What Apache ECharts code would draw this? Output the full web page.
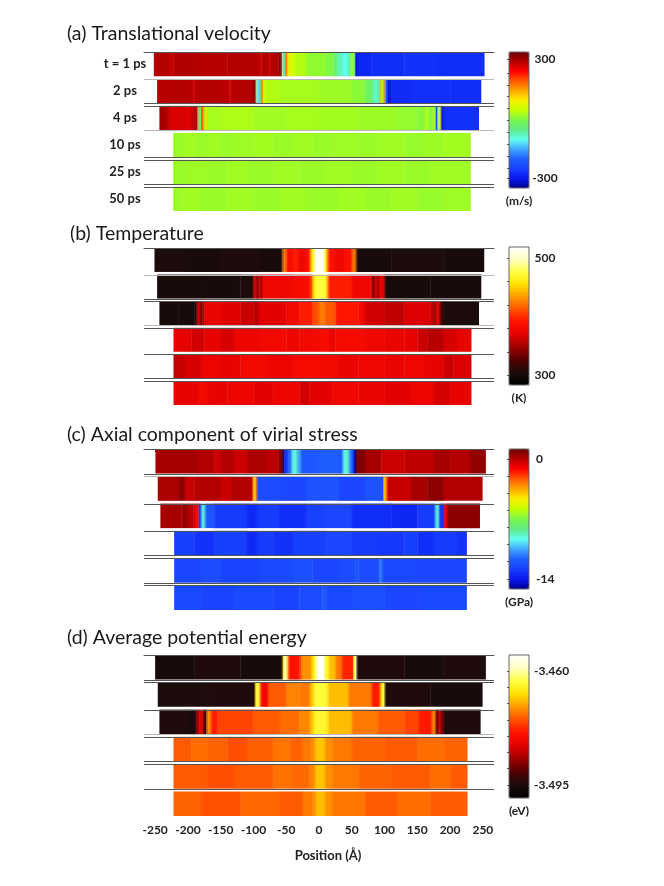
<!DOCTYPE html>
<html>
<head>
<meta charset="utf-8">
<title>Shock profiles</title>
<script src="https://cdn.jsdelivr.net/npm/echarts@6/dist/echarts.min.js"></script>
<style>
  html, body { margin: 0; padding: 0; background: #fff; }
  #chart { width: 664px; height: 886px; }
</style>
</head>
<body>
<div id="chart"></div>
<script>
const timeLabels = ['t = 1 ps', '2 ps', '4 ps', '10 ps', '25 ps', '50 ps'];

// each row: [start position in A, value] up to a closing [end position, null]
const velocityRows = [
  [[-252,288],[-228,276],[-222,290],[-180,286],[-140,288],[-92,274],[-88,288],[-76,278],[-72,290],[-62,305],[-59,335],[-57,90],[-56,-120],[-53.5,-60],[-52,170],[-49,110],[-47,70],[-42,48],[-36,30],[-20,8],[10,-5],[22,-40],[28,-80],[36,-105],[44,-70],[48,15],[53,-60],[55,-320],[58,-285],[80,-274],[130,-270],[180,-274],[252,null]],
  [[-247,286],[-226,288],[-194,272],[-190,288],[-150,286],[-137,268],[-133,288],[-104,296],[-99,330],[-97,150],[-96,-100],[-93,-130],[-90,-40],[-89,170],[-86,60],[-83,30],[-60,22],[0,16],[50,5],[70,-30],[82,-90],[90,-60],[93,120],[96,30],[98,170],[100,-150],[102,-240],[104,-320],[108,-278],[140,-272],[200,-275],[247,null]],
  [[-243.5,300],[-235,285],[-228,262],[-205,258],[-196,278],[-189,300],[-186,160],[-184,-130],[-182,-20],[-180,210],[-178,160],[-176,30],[-173,50],[-171,22],[-150,26],[-100,18],[-50,22],[0,20],[60,16],[120,10],[150,2],[162,30],[167,-5],[172,20],[177,-60],[178,-240],[180,-120],[182,60],[186,-310],[190,-272],[243.5,null]],
  [[-222.5,15],[-205,20],[-190,15],[-170,19],[-150,14],[-130,17],[-100,20],[-70,15],[-40,18],[-10,14],[20,17],[60,15],[90,18],[130,13],[160,16],[190,20],[231,null]],
  [[-222.5,14],[-200,17],[-170,15],[-140,19],[-110,15],[-70,18],[-30,15],[10,18],[50,15],[90,19],[130,14],[170,18],[231,null]],
  [[-222.5,15],[-210,19],[-180,14],[-140,18],[-100,14],[-60,19],[-20,15],[30,19],[70,15],[110,18],[150,13],[190,17],[231,null]]
];

const temperatureRows = [
  [[-251,305],[-205,303],[-150,306],[-90,304],[-56,425],[-50,385],[-40,395],[-32,380],[-20,390],[-14,440],[-11,470],[-7,515],[5,505],[8,470],[11,430],[14,390],[24,380],[38,390],[50,425],[56.5,304],[110,305],[190,303],[251.5,null]],
  [[-247,304],[-180,303],[-120,305],[-100,375],[-96,340],[-92,375],[-90,345],[-87,380],[-40,385],[-14,410],[-10,455],[-6,475],[8,470],[11,440],[14,395],[50,380],[78,375],[80,340],[85,372],[88,345],[91,375],[100,304],[170,303],[247,null]],
  [[-243.5,304],[-215,303],[-190,308],[-187,345],[-185,368],[-182,338],[-178,352],[-175,376],[-150,370],[-120,362],[-100,356],[-92,372],[-50,382],[-30,394],[-10,412],[0,425],[8,415],[25,392],[60,382],[70,364],[100,358],[130,368],[170,356],[176,340],[178,380],[184,325],[189,305],[243.5,null]],
  [[-222,374],[-195,364],[-175,374],[-150,366],[-130,378],[-90,382],[-50,378],[-30,382],[0,385],[15,376],[25,384],[70,380],[100,376],[130,374],[150,362],[165,356],[190,366],[210,374],[232,null]],
  [[-222,360],[-205,366],[-180,378],[-150,374],[-120,382],[-80,378],[-40,384],[0,382],[30,376],[60,380],[100,376],[130,380],[160,374],[190,362],[205,368],[232,null]],
  [[-222,374],[-185,382],[-170,374],[-140,378],[-100,372],[-70,378],[-30,364],[-15,372],[20,380],[60,376],[100,372],[140,378],[175,366],[200,374],[232,null]]
];

const stressRows = [
  [[-249.5,0.3],[-185,0.1],[-160,-0.3],[-150,0.1],[-130,-0.3],[-110,0.2],[-80,0.0],[-62,0.9],[-55,-15],[-53,-13],[-47,-11.5],[-42,-9.6],[-38,-8.8],[-34,-10.5],[-28,-12],[0,-11.8],[30,-12],[36,-9.6],[40,-8.8],[45,-10.8],[48,-12],[53,-15],[56,0.9],[70,0.3],[95,-0.3],[130,-0.1],[175,0.3],[200,0.1],[230,0.6],[254,null]],
  [[-246,0.2],[-215,0.7],[-205,-0.2],[-190,0.1],[-150,-0.3],[-135,0.1],[-104,-0.1],[-102,-2.5],[-100,-4.2],[-97,-2.8],[-95,-12.4],[-60,-12.6],[-20,-12.2],[30,-12.6],[70,-12.2],[96,-12.6],[98,-4],[102,-2.2],[104,-0.2],[140,0.3],[165,0.7],[190,0.1],[249,null]],
  [[-242,0.3],[-210,0.5],[-200,0],[-191.5,-0.7],[-187,-1.2],[-184,-13],[-180,-9],[-174,-12],[-160,-13],[-110,-13.6],[-95,-13],[-60,-13.4],[-20,-12.8],[10,-12.6],[50,-13.4],[110,-13.6],[150,-13],[177,-9],[183,-13],[187,-13.5],[190,-1.2],[195,0.7],[245,null]],
  [[-221,-12.9],[-190,-13.3],[-160,-12.9],[-110,-13.6],[-95,-13],[-70,-13.3],[-40,-12.9],[10,-12.6],[50,-13],[90,-13.1],[130,-12.9],[150,-13.4],[175,-13],[210,-13.3],[225,null]],
  [[-221,-12.6],[-180,-12.4],[-150,-12.7],[-90,-12.5],[-40,-12.3],[-10,-12.6],[30,-12.4],[55,-12],[60,-12.4],[88,-12.4],[92,-11.2],[96,-12.5],[140,-12.6],[225,null]],
  [[-221,-12.5],[-180,-12.7],[-130,-12.5],[-70,-12.7],[-30,-12.4],[5,-12],[12,-12.5],[50,-12.3],[100,-12.6],[160,-12.5],[225,null]]
];

const energyRows = [
  [[-250,-3.4955],[-190,-3.4948],[-120,-3.4955],[-55.5,-3.464],[-53,-3.4575],[-50,-3.468],[-47,-3.479],[-30,-3.476],[-27,-3.4715],[-12,-3.4675],[-8,-3.463],[-4,-3.4555],[6,-3.457],[8,-3.464],[15,-3.469],[25,-3.473],[35,-3.478],[50,-3.477],[52,-3.464],[55,-3.4585],[57,-3.4948],[130,-3.4955],[190,-3.4948],[254,null]],
  [[-246,-3.495],[-170,-3.4948],[-97.6,-3.467],[-96,-3.4625],[-91,-3.472],[-89,-3.481],[-78,-3.4745],[-50,-3.4722],[-30,-3.4728],[-14,-3.4685],[-8,-3.4635],[8,-3.4645],[14,-3.469],[45,-3.4728],[80,-3.4785],[93,-3.468],[96,-3.463],[100,-3.4948],[170,-3.4955],[249,null]],
  [[-243.5,-3.4948],[-200,-3.4955],[-187.5,-3.4865],[-183,-3.481],[-178,-3.489],[-174,-3.4935],[-172,-3.4715],[-165,-3.4785],[-155,-3.4758],[-100,-3.4745],[-60,-3.4735],[-30,-3.472],[-14,-3.4685],[-8,-3.464],[8,-3.465],[14,-3.469],[50,-3.4728],[90,-3.4745],[130,-3.4758],[152,-3.4785],[172,-3.472],[178,-3.491],[181,-3.484],[186,-3.4895],[190,-3.4948],[246,null]],
  [[-222,-3.4745],[-195,-3.4735],[-170,-3.474],[-140,-3.4752],[-110,-3.4742],[-70,-3.473],[-45,-3.474],[-25,-3.4728],[-12,-3.4715],[-6,-3.4685],[9,-3.4715],[20,-3.4728],[50,-3.474],[100,-3.4745],[150,-3.4735],[190,-3.474],[226,null]],
  [[-222,-3.4745],[-170,-3.4752],[-130,-3.4745],[-70,-3.4732],[-40,-3.4738],[-15,-3.472],[-6,-3.4685],[9,-3.4715],[20,-3.4728],[60,-3.474],[110,-3.4745],[170,-3.4735],[200,-3.4745],[226,null]],
  [[-222,-3.474],[-180,-3.475],[-120,-3.4738],[-60,-3.4745],[-25,-3.4728],[-10,-3.4715],[-5,-3.469],[9,-3.4715],[20,-3.473],[70,-3.4745],[120,-3.4735],[170,-3.4745],[226,null]]
];

const jetColors = ['#6b0000','#b80000','#ff0000','#ff5a00','#ffa800','#f8f000','#c4ff00','#78f848','#60ea88','#60fff0','#40a8ff','#2060ff','#1840ff','#0818f0','#000090'].reverse();
const hotColors = ['#ffffff','#ffffc0','#ffff40','#ffe000','#ff9800','#ff5000','#ff1000','#e00000','#a00000','#500000','#1c0c0c','#000000'].reverse();

const panels = [
  { title: '(a) Translational velocity', titleLeft: 67, titleTop: 24, rows: velocityRows, top: 52, height: 159,
    barTop: 52, barHeight: 136, min: -350, max: 335, colors: jetColors, barLabels: [300, -300], barTicks: [-250,-190,-130,-70,-10,50,110,170,230], unit: '(m/s)',
    labelAlign: 'center', labelMargin: 16,
    ticks: [-250,-200,-100,0,100,250], rules: 'dn ld dl nd dd d-' },
  { title: '(b) Temperature', titleLeft: 70, titleTop: 224, rows: temperatureRows, top: 248, height: 157,
    barTop: 247, barHeight: 138, min: 284, max: 518.7, colors: hotColors, barLabels: [500, 300], barTicks: [340,380,420,460], unit: '(K)',
    labelAlign: 'center', labelMargin: 16,
    ticks: [-250,-150,-100,0,100,150,200,250], rules: 'dn ld dl dn dd d-' },
  { title: '(c) Axial component of virial stress', titleLeft: 67, titleTop: 425, rows: stressRows, top: 449, height: 161,
    barTop: 449, barHeight: 140, min: -15.2, max: 1.2, colors: jetColors, barLabels: [0, -14], barTicks: [-12,-10,-8,-6,-4,-2], unit: '(GPa)',
    labelAlign: 'left', labelMargin: 7,
    ticks: [-250,-200,-150,-50,0,50,150,200], rules: 'dd ln dn dd dd d-' },
  { title: '(d) Average potential energy', titleLeft: 67, titleTop: 628, rows: energyRows, top: 655, height: 161,
    barTop: 655, barHeight: 143, min: -3.499, max: -3.4551, colors: hotColors, barLabels: [-3.46, -3.495], barTicks: [-3.49,-3.485,-3.48,-3.475,-3.47,-3.465], unit: '(eV)',
    labelAlign: 'left', labelMargin: 5,
    ticks: [-250,-200,-150,-100,-50,0,50,100,150,200,250], rules: 'dd dn dl dd dd n-' }
];

const X_MIN = -267;
const X_MAX = 267;
const ROW_FILL = 0.9; // share of a row step that the strip covers
const EDGE_BLEND = 3; // neighbouring cells melt together over this many A
const LABEL_FONT = 'Lato, "Open Sans", sans-serif';
const RULE_COLORS = { d: '#555555', l: '#b8b8b8' };

const chart = echarts.init(document.getElementById('chart'));

const grids = [], xAxes = [], yAxes = [], series = [], visualMaps = [], titles = [];

panels.forEach((p, i) => {
  titles.push({
    text: p.title, left: p.titleLeft, top: p.titleTop, padding: 0,
    textStyle: { fontFamily: LABEL_FONT, fontSize: 19.5, fontWeight: 'normal', color: '#1a1a1a' }
  });

  const colorOf = v => echarts.color.lerp((v - p.min) / (p.max - p.min), p.colors);
  const midColor = (a, b) => echarts.color.lerp(0.5, [colorOf(a), colorOf(b)]);

  // strips
  grids.push({ left: 144, width: 350, top: p.top, height: p.height });
  xAxes.push({
    type: 'value', gridIndex: i * 2, min: X_MIN, max: X_MAX, splitLine: { show: false },
    axisLine: { lineStyle: { color: '#555', width: 1 } },
    axisTick: { customValues: p.ticks, length: 3, lineStyle: { color: '#444' } },
    axisLabel: i === 3
      ? { customValues: p.ticks, fontFamily: LABEL_FONT, fontSize: 12, fontWeight: 'bold', color: '#222', margin: 8 }
      : { show: false },
    name: i === 3 ? 'Position (Å)' : '',
    nameLocation: 'middle', nameGap: 33,
    nameTextStyle: { fontFamily: LABEL_FONT, fontSize: 13, fontWeight: 'bold', color: '#222', padding: [0, 0, 0, 18] }
  });
  yAxes.push({
    type: 'value', gridIndex: i * 2, inverse: true, min: 0, max: 5 + ROW_FILL, splitLine: { show: false },
    axisLine: { show: false }, axisTick: { show: false },
    axisLabel: i === 0
      ? {
          customValues: timeLabels.map((_, r) => r + ROW_FILL / 2),
          formatter: v => timeLabels[Math.floor(v)],
          align: 'center', margin: 19,
          fontFamily: LABEL_FONT, fontSize: 13, fontWeight: 'bold', color: '#222'
        }
      : { show: false }
  });

  const cells = [];
  p.rows.forEach((row, r) => {
    for (let k = 0; k < row.length - 1; k++) {
      const prev = k > 0 ? row[k - 1][1] : row[k][1];
      const next = k < row.length - 2 ? row[k + 1][1] : row[k][1];
      cells.push([row[k][0], row[k + 1][0], row[k][1], r, prev, next]);
    }
  });
  series.push({
    type: 'custom', xAxisIndex: i * 2, yAxisIndex: i * 2, data: cells, clip: false, silent: true,
    encode: { x: [0, 1], y: 3 },
    renderItem: (params, api) => {
      const x0 = api.value(0), x1 = api.value(1), v = api.value(2);
      const a = api.coord([x0, api.value(3)]);
      const b = api.coord([x1, api.value(3) + ROW_FILL]);
      const blend = Math.min(EDGE_BLEND, (x1 - x0) / 2) / (x1 - x0);
      const own = colorOf(v);
      return {
        type: 'rect',
        shape: { x: a[0], y: a[1], width: b[0] - a[0] + 0.4, height: b[1] - a[1] },
        style: {
          fill: new echarts.graphic.LinearGradient(0, 0, 1, 0, [
            { offset: 0, color: midColor(api.value(4), v) },
            { offset: blend, color: own },
            { offset: 1 - blend, color: own },
            { offset: 1, color: midColor(v, api.value(5)) }
          ])
        }
      };
    }
  });

  // thin rules above and below each strip, tones from the panel's rule string
  const ruleData = [];
  p.rules.split(' ').forEach((pair, r) => {
    if (RULE_COLORS[pair[0]]) ruleData.push([r, RULE_COLORS[pair[0]]]);
    if (RULE_COLORS[pair[1]]) ruleData.push([r + ROW_FILL, RULE_COLORS[pair[1]]]);
  });
  series.push({
    type: 'custom', xAxisIndex: i * 2, yAxisIndex: i * 2, data: ruleData.map(d => [d[0]]), clip: false, silent: true,
    encode: { y: 0 }, z: 3,
    renderItem: (params, api) => {
      const a = api.coord([X_MIN, api.value(0)]);
      const b = api.coord([X_MAX, api.value(0)]);
      return {
        type: 'line',
        shape: { x1: a[0], y1: Math.round(a[1]) + 0.5, x2: b[0], y2: Math.round(b[1]) + 0.5 },
        style: { stroke: ruleData[params.dataIndex][1], lineWidth: 1 }
      };
    }
  });

  // colour bar: gradient from the visualMap, frame and labels from an axis on top of it
  visualMaps.push({
    type: 'continuous', seriesIndex: i * 2, dimension: 2, min: p.min, max: p.max,
    left: 509, top: p.barTop, itemWidth: 20, itemHeight: p.barHeight, padding: 0,
    calculable: false, realtime: false, text: ['', ''], textGap: 0, hoverLink: false,
    inRange: { color: p.colors }, z: 1
  });
  grids.push({
    left: 509, width: 20, top: p.barTop, height: p.barHeight, show: true, z: 5,
    backgroundColor: 'transparent', borderColor: '#666', borderWidth: 1
  });
  xAxes.push({
    type: 'value', gridIndex: i * 2 + 1, min: 0, max: 1,
    axisLine: { show: false }, axisTick: { show: false }, axisLabel: { show: false }, splitLine: { show: false },
    name: p.unit, nameLocation: 'middle', nameGap: 7,
    nameTextStyle: { fontFamily: LABEL_FONT, fontSize: 12, fontWeight: 'bold', color: '#222' }
  });
  yAxes.push({
    type: 'value', gridIndex: i * 2 + 1, position: 'right', min: p.min, max: p.max, z: 6,
    axisLine: { show: false }, splitLine: { show: false },
    axisTick: { inside: true, length: 2, customValues: p.barTicks.concat(p.barLabels), lineStyle: { color: '#555' } },
    axisLabel: {
      customValues: p.barLabels, align: p.labelAlign, margin: p.labelMargin,
      formatter: v => (i === 3 ? v.toFixed(3) : String(v)),
      fontFamily: LABEL_FONT, fontSize: 12, fontWeight: 'bold', color: '#222'
    }
  });
});

chart.setOption({
  animation: false,
  backgroundColor: '#fff',
  title: titles,
  grid: grids,
  xAxis: xAxes,
  yAxis: yAxes,
  visualMap: visualMaps,
  series: series
});
</script>
</body>
</html>
